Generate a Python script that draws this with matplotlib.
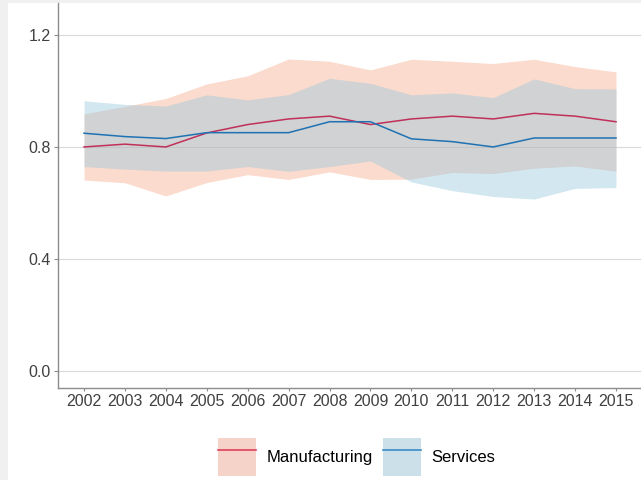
import numpy as np
import matplotlib
matplotlib.use("Agg")
import matplotlib.pyplot as plt
from matplotlib.patches import Patch, Rectangle
from matplotlib.lines import Line2D

plt.rcParams['font.family'] = ['Liberation Sans', 'DejaVu Sans']

years = list(range(2002, 2016))

# mean and band for manufacturing
manuf_mean = [0.80, 0.81, 0.80, 0.85, 0.88, 0.90, 0.91, 0.88, 0.90, 0.91, 0.90, 0.92, 0.91, 0.89]
manuf_low = [0.682, 0.672, 0.625, 0.673, 0.701, 0.684, 0.711, 0.684, 0.685, 0.709, 0.705, 0.724, 0.732, 0.713]
manuf_high = [0.918, 0.945, 0.973, 1.025, 1.054, 1.114, 1.106, 1.075, 1.113, 1.106, 1.098, 1.113, 1.087, 1.068]

# mean and band for services
serv_mean = [0.849, 0.837, 0.830, 0.851, 0.851, 0.851, 0.890, 0.890, 0.829, 0.819, 0.800, 0.832, 0.832, 0.832]
serv_low = [0.730, 0.721, 0.714, 0.714, 0.730, 0.713, 0.730, 0.750, 0.675, 0.644, 0.623, 0.614, 0.652, 0.655]
serv_high = [0.965, 0.952, 0.946, 0.986, 0.968, 0.987, 1.045, 1.027, 0.986, 0.993, 0.976, 1.043, 1.008, 1.007]

y_ticks = [0.0, 0.4, 0.8, 1.2]

fill_m, line_m = '#F4A582', '#C0305A'
fill_s, line_s = '#92C5DE', '#1F72B4'

W, H = 641, 480
fig = plt.figure(figsize=(W / 100, H / 100), dpi=100, facecolor='#f0f0f0')
fig.patches.append(Rectangle((8 / W, 0), 1 - 8 / W, 1 - 3 / H, transform=fig.transFigure,
                             facecolor='white', edgecolor='none', zorder=-10))

ax = fig.add_axes([58 / W, 1 - 388 / H, 1 - 58 / W, (388 - 3) / H])
ax.set_facecolor('none')

ax.fill_between(years, manuf_low, manuf_high, color=fill_m, alpha=0.4, lw=0)
ax.fill_between(years, serv_low, serv_high, color=fill_s, alpha=0.4, lw=0)
ax.plot(years, manuf_mean, color=line_m, lw=1.1)
ax.plot(years, serv_mean, color=line_s, lw=1.1)

ax.set_xlim(2002 - 26 / 40.923, 2015 + 25 / 40.923)
ax.set_ylim(-0.0607, 1.314)
ax.set_xticks(years)
ax.set_yticks(y_ticks)
ax.set_yticklabels([f"{v:.1f}" for v in y_ticks])
ax.grid(axis='y', color='#d9d9d9', lw=0.8)
ax.set_axisbelow(True)

for side in ('top', 'right'):
    ax.spines[side].set_visible(False)
for side in ('left', 'bottom'):
    ax.spines[side].set_color('#8c8c8c')
    ax.spines[side].set_linewidth(1.0)
ax.tick_params(axis='both', colors='#8c8c8c', length=3, width=0.8,
               labelsize=11.5, labelcolor='#404040', pad=2)
ax.tick_params(axis='x', length=2)

handles = [
    (Patch(facecolor='#F5D3C8', edgecolor='none'), Line2D([], [], color='#E0405A', lw=1.2)),
    (Patch(facecolor='#CCE0EA', edgecolor='none'), Line2D([], [], color='#3A8CC8', lw=1.2)),
]
fig.legend(handles, ['Manufacturing', 'Services'], loc='center',
           bbox_to_anchor=(356.5 / W, 1 - 457 / H), ncol=2, frameon=False,
           fontsize=12, handlelength=2.3, handleheight=3.05, handletextpad=0.6,
           columnspacing=0.6)

fig.savefig('out.png', dpi=100, facecolor=fig.get_facecolor())
